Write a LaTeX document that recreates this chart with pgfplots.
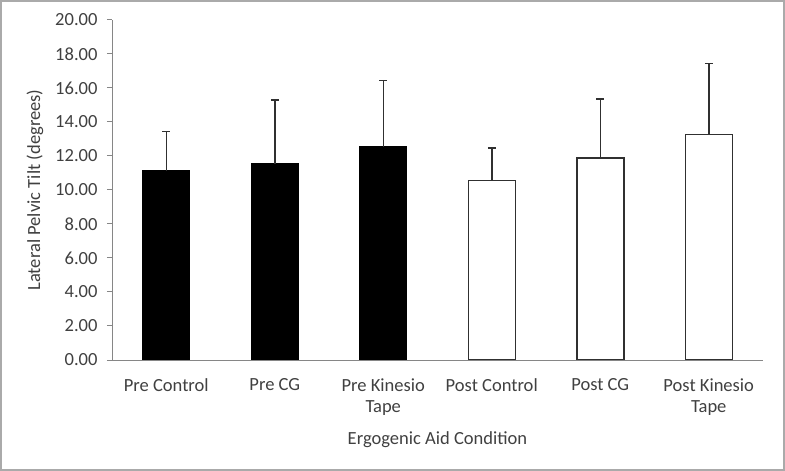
\documentclass[border=0pt]{standalone}
\usepackage{pgfplots}
\pgfplotsset{compat=1.18}
\usepackage{fontspec}
\setmainfont{Carlito}
\definecolor{txt}{HTML}{404040}
\definecolor{axisgray}{HTML}{868686}
\definecolor{edge}{HTML}{303030}
\begin{document}
\begin{tikzpicture}
\useasboundingbox (0,0) rectangle (785bp,471bp);
\draw[axisgray!70, line width=2bp] (1bp,1bp) rectangle (784bp,470bp);
\begin{axis}[
  at={(112bp,111bp)}, anchor=south west,
  scale only axis, width=651bp, height=340bp,
  xmin=-0.5, xmax=5.5, ymin=0, ymax=20,
  axis lines*=left,
  axis on top,
  axis line style={axisgray, line width=1bp},
  every tick/.style={axisgray, line width=1bp},
  tick align=outside,
  ytick={0,2,...,20},
  major tick length=5bp,
  xtick={0,...,5},
  xticklabels={Pre Control, Pre CG, Pre Kinesio\\Tape, Post Control, Post CG, Post Kinesio\\Tape},
  x tick style={draw=none},
  minor xtick={-0.5,0.5,...,5.5},
  minor tick length=6bp,
  minor x tick style={axisgray, line width=1bp},
  xticklabel style={align=center, font=\fontsize{18.6}{21}\selectfont, text=txt, anchor=north, yshift=-10bp},
  yticklabel style={font=\fontsize{18.6}{21}\selectfont, text=txt, xshift=-6bp},
  /pgf/number format/.cd, fixed, fixed zerofill, precision=2, assume math mode=true,
  /pgfplots/.cd,
  xlabel={Ergogenic Aid Condition},
  ylabel={Lateral Pelvic Tilt (degrees)},
  xlabel style={font=\fontsize{18.6}{21}\selectfont, text=txt, yshift=-10bp},
  ylabel style={font=\fontsize{18.6}{21}\selectfont, text=txt, yshift=5bp},
  ybar, bar width=47bp, bar shift=0pt,
  clip=false,
]
\addplot[fill=black, draw=black, line width=1bp,
  error bars/.cd, y dir=plus, y explicit,
  error bar style={edge, line width=1.5bp},
  error mark options={edge, line width=1.5bp, mark size=4bp, rotate=90}]
  table[x=X, y=Y, y error=E, row sep=\\]{
  X Y E \\
  0 11.12 2.33 \\
  1 11.53 3.76 \\
  2 12.55 3.90 \\
};
\addplot[fill=white, draw=edge, line width=1.5bp,
  error bars/.cd, y dir=plus, y explicit,
  error bar style={edge, line width=1.5bp},
  error mark options={edge, line width=1.5bp, mark size=4bp, rotate=90}]
  table[x=X, y=Y, y error=E, row sep=\\]{
  X Y E \\
  3 10.55 1.92 \\
  4 11.88 3.47 \\
  5 13.27 4.16 \\
};
\end{axis}
\end{tikzpicture}
\end{document}
